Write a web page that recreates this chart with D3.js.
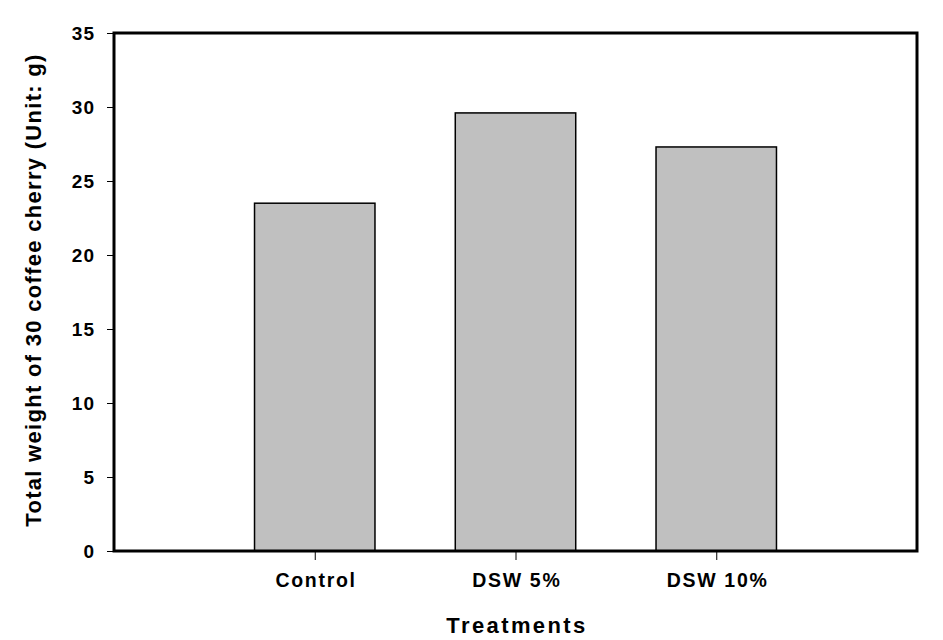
<!DOCTYPE html>
<html>
<head>
<meta charset="utf-8">
<script src="https://cdn.jsdelivr.net/npm/d3@7"></script>
<style>
  body { margin: 0; background: #fff; }
  text { font-family: "Liberation Sans", Arial, sans-serif; font-weight: bold; }
</style>
</head>
<body>
<div id="myDiv"></div>
<script>
// data
var categories = ["Control", "DSW 5%", "DSW 10%"];
var weights = [23.5, 29.6, 27.3];
var yTicks = [0, 5, 10, 15, 20, 25, 30, 35];

var w = 943;
var h = 640;
// plot frame edges (don't call these "top", it clashes with window.top)
var pLeft = 114, pRight = 917, pTop = 33, pBottom = 551;

var svg = d3.select("#myDiv")
    .append("svg")
    .attr("width", w)
    .attr("height", h);

// positions 1..3 on a 0..4 axis
var x = d3.scaleLinear().domain([0, 4]).range([pLeft, pRight]);
var y = d3.scaleLinear().domain([0, 35]).range([pBottom, pTop]);
var barW = (x(1) - x(0)) * 0.6;

svg.selectAll("rect.bar")
  .data(weights)
  .enter()
  .append("rect")
  .attr("class", "bar")
  .attr("x", function(d, i) { return x(i + 1) - barW / 2; })
  .attr("y", function(d) { return y(d); })
  .attr("width", barW)
  .attr("height", function(d) { return pBottom - y(d); })
  .attr("fill", "#c0c0c0")
  .attr("stroke", "#000")
  .attr("stroke-width", 1.5);

// y axis
var yAxis = svg.append("g")
  .attr("transform", "translate(" + pLeft + ",0)")
  .call(d3.axisLeft(y).tickValues(yTicks).tickSize(7).tickPadding(12));
yAxis.select(".domain").remove();
yAxis.selectAll("text")
  .attr("font-size", "19px")
  .attr("letter-spacing", "1px")
  .attr("dy", "0.35em")
  .attr("fill", "#000");
yAxis.selectAll("line").attr("stroke", "#000");

// x axis
var xAxis = svg.append("g")
  .attr("transform", "translate(0," + pBottom + ")")
  .call(d3.axisBottom(x).tickValues([1, 2, 3])
    .tickFormat(function(d) { return categories[d - 1]; })
    .tickSize(9).tickPadding(13));
xAxis.select(".domain").remove();
xAxis.selectAll("text")
  .attr("font-size", "19.5px")
  .attr("letter-spacing", "1.7px")
  .attr("dx", "0.8px")
  .attr("fill", "#000");
xAxis.selectAll("line").attr("stroke", "#000");

// frame
svg.append("rect")
  .attr("x", pLeft)
  .attr("y", pTop)
  .attr("width", pRight - pLeft)
  .attr("height", pBottom - pTop)
  .attr("fill", "none")
  .attr("stroke", "#000")
  .attr("stroke-width", 3);

// axis titles
svg.append("text")
  .attr("x", 517)
  .attr("y", 633)
  .attr("text-anchor", "middle")
  .attr("font-size", "22px")
  .attr("letter-spacing", "2.4px")
  .text("Treatments");

svg.append("text")
  .attr("transform", "translate(41,290) rotate(-90)")
  .attr("text-anchor", "middle")
  .attr("font-size", "22px")
  .attr("letter-spacing", "1.3px")
  .text("Total weight of 30 coffee cherry (Unit: g)");
</script>
</body>
</html>
